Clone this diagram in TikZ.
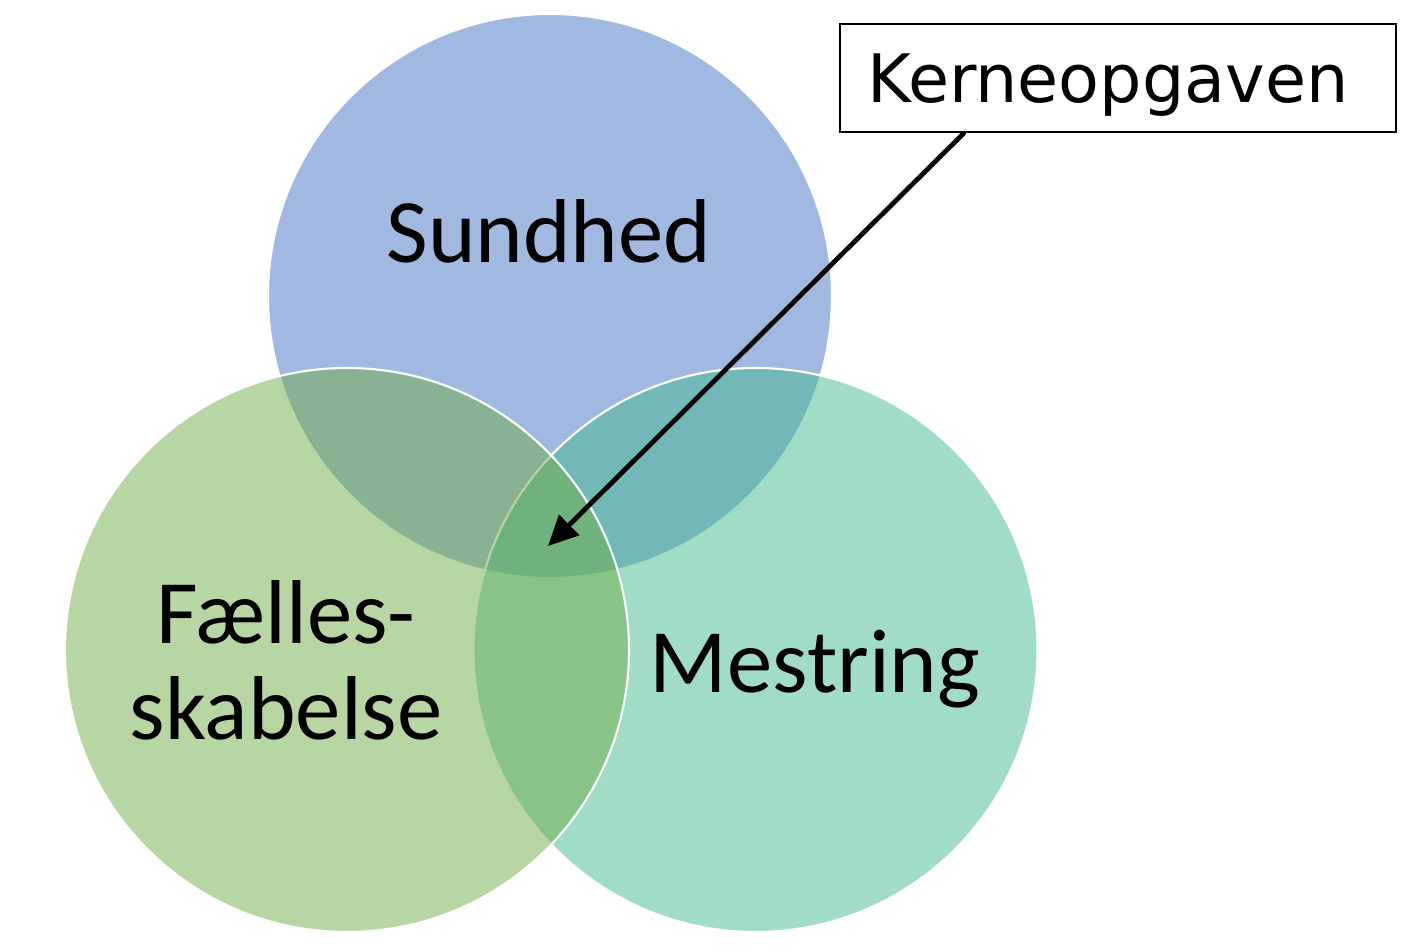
\documentclass[tikz,border=0pt]{standalone}
\usepackage{fontspec}
\setmainfont{Carlito}
\newfontfamily\kernefont{DejaVu Sans}
\usetikzlibrary{arrows.meta,positioning}
\definecolor{sundhedblaa}{HTML}{4472C4}
\definecolor{faellesgroen}{HTML}{70AD47}
\definecolor{mestringturkis}{HTML}{43B98D}

\begin{document}
\begin{tikzpicture}[
          line cap=round,
          cirkel/.style={circle,minimum size=56.4mm,inner sep=0pt,
                         draw=white,line width=0.6pt,fill opacity=0.5},
          etiket/.style={font=\fontsize{25.8}{27.5}\selectfont,text=black,
                         align=center,anchor=base},
          boks/.style={draw=black,line width=0.8pt,fill=white,
                       minimum width=55.6mm,minimum height=10.8mm,
                       text depth=0pt,
                       font=\kernefont\fontsize{19}{22}\selectfont},
          pil/.style={-{Triangle[length=3mm,width=2.8mm]},line width=1.35pt}]
        \useasboundingbox (0,0) rectangle (14.2,9.51);
        \node[cirkel,fill=sundhedblaa] (sundhed) at (5.50,6.55) {};
        \node[cirkel,fill=mestringturkis] (mestring) at (7.555,3.01) {};
        \node[cirkel,fill=faellesgroen] (faelles) at (3.47,3.01) {};
        \node[etiket] (sundhed-tekst) at (5.49,6.88) {Sundhed};
        \node[etiket] (faelles-tekst) at (2.86,2.11) {Fælles-\\skabelse};
        \node[etiket] (mestring-tekst) at (8.15,2.58) {Mestring};
        \node[boks] (kerne) at (11.18,8.73) {Kerneopgaven\kern2mm\relax};
        \coordinate (kerne-spids) at (5.48,4.05);
        \draw[pil] ([xshift=12.5mm]kerne.south west) -- (kerne-spids);
      \end{tikzpicture}
\end{document}
